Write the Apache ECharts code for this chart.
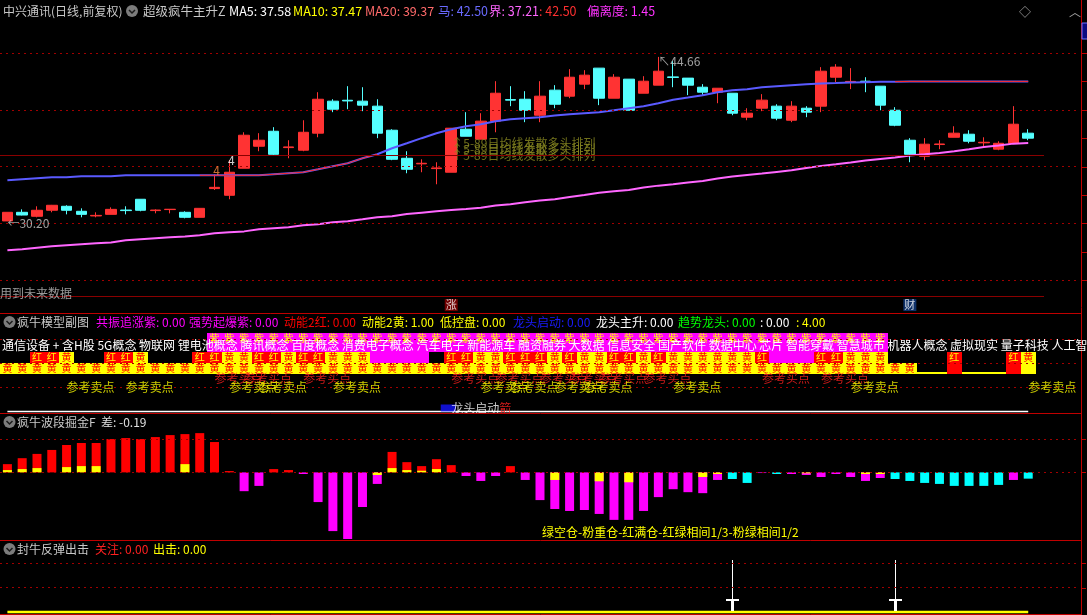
<!DOCTYPE html>
<html>
<head>
<meta charset="utf-8">
<title>中兴通讯 日线</title>
<script src="https://cdn.jsdelivr.net/npm/echarts@6/dist/echarts.min.js"></script>
<style>
html,body{margin:0;padding:0;background:#000;overflow:hidden;}
#chart{width:1087px;height:615px;}
</style>
</head>
<body>
<div id="chart"></div>
<script>
// ================= DATA =================
// daily candles, index 0..69
const opens  = [30.21,30.97,30.62,31.15,31.50,31.06,30.65,30.79,31.17,32.12,
                31.12,31.21,30.97,30.53,33.06,32.47,34.85,36.79,38.11,36.67,
                36.44,37.94,40.76,40.84,40.76,40.32,38.20,35.73,35.24,34.82,
                34.50,38.29,37.41,39.00,40.90,40.93,39.52,41.73,41.20,42.26,
                43.67,41.02,42.70,41.46,42.17,42.90,42.79,41.99,41.55,41.46,
                39.35,40.14,40.32,39.08,40.14,40.32,42.87,42.45,42.52,42.08,
                39.96,37.32,35.90,36.94,37.58,37.85,37.09,36.53,37.05,37.94];
const closes = [30.97,30.73,31.15,31.59,31.15,30.79,30.70,31.23,31.12,31.15,
                31.17,31.24,30.53,31.32,33.17,34.50,37.76,37.32,36.08,36.73,
                38.02,40.93,40.05,40.78,40.41,37.94,35.64,34.76,35.29,34.88,
                38.38,37.67,39.00,41.46,40.85,39.96,41.20,40.49,42.87,43.05,
                41.02,42.87,39.96,42.52,43.40,42.85,42.17,41.55,41.90,39.70,
                39.70,40.85,39.26,40.32,39.79,43.40,43.76,42.50,42.47,40.41,
                38.64,36.08,36.97,36.99,37.94,37.23,37.14,37.05,38.73,37.50];
const lows   = [30.20,30.70,30.53,30.97,30.79,30.53,30.53,30.79,30.79,31.06,
                30.88,30.88,30.44,30.53,32.94,32.12,34.85,36.35,36.00,35.73,
                36.35,37.58,39.79,40.05,39.88,37.50,35.56,34.41,34.50,33.44,
                34.50,37.67,37.41,38.02,40.32,38.91,38.91,40.14,41.02,41.82,
                40.41,41.02,39.96,41.46,42.17,41.99,41.29,41.32,40.58,39.52,
                39.08,39.88,39.08,38.91,39.35,39.79,42.43,41.82,41.55,39.96,
                38.55,35.38,35.56,36.53,37.58,37.05,36.70,36.44,37.05,37.32];
const highs  = [30.97,31.23,31.50,31.62,31.59,31.32,30.97,31.41,31.50,32.12,
                31.23,31.26,31.06,31.32,34.32,35.56,38.02,37.94,38.47,37.32,
                39.08,41.55,40.93,42.08,41.99,40.93,38.29,36.35,35.64,35.38,
                38.38,39.79,39.70,42.52,42.08,41.64,42.52,42.17,43.58,43.49,
                43.67,43.14,42.70,42.96,44.66,44.29,42.79,42.26,41.90,41.46,
                40.14,41.38,40.49,40.76,40.32,43.76,44.02,43.67,42.87,42.08,
                40.23,37.50,37.50,37.32,38.55,38.20,37.58,37.23,40.32,38.29];
// "马" line (blue) and "界" line (magenta)
const maHorse = [33.79,33.88,33.97,34.06,34.06,34.14,34.14,34.14,34.23,34.23,
                 34.23,34.23,34.23,34.23,34.23,34.23,34.23,34.23,34.32,34.41,
                 34.50,34.76,35.03,35.29,35.73,36.08,36.61,37.05,37.50,37.94,
                 38.29,38.55,38.73,39.00,39.17,39.26,39.35,39.49,39.61,39.70,
                 39.79,39.96,40.14,40.32,40.58,40.88,41.08,41.29,41.55,41.73,
                 41.82,41.99,42.08,42.17,42.26,42.32,42.35,42.40,42.43,42.46,
                 42.48,42.50,42.50,42.50,42.50,42.50,42.50,42.50,42.50,42.50];
const maBound = [27.62,27.71,27.85,27.97,28.06,28.15,28.24,28.32,28.50,28.59,
                 28.68,28.77,28.85,28.94,29.12,29.21,29.29,29.47,29.56,29.65,
                 29.82,29.91,30.09,30.18,30.35,30.53,30.62,30.82,30.94,31.06,
                 31.18,31.26,31.38,31.56,31.68,31.85,32.00,32.12,32.32,32.50,
                 32.70,32.82,32.94,33.15,33.32,33.44,33.59,33.73,33.94,34.12,
                 34.26,34.38,34.53,34.67,34.88,35.06,35.20,35.35,35.53,35.67,
                 35.79,35.97,36.08,36.20,36.35,36.53,36.73,36.85,37.02,37.08];
const horseRedRanges = [[13,25],[60,69]];          // red overlay on the blue line
const priceGridLevels = [25,30,35,40,45];
const priceRefLevel = 36.0;

// header values
const headMA5 = '37.58', headMA10 = '37.47', headMA20 = '39.37';
const headHorse = '42.50', headBound = '37.21', headRed = '42.50', headDev = '1.45';

// panel 2: 疯牛模型副图 (cell codes per day; . = empty)
const row1Codes = '..............PPPPPPPPPPPPPPPPPPPPPPPPPPPPPPPPPPPPPPPPPPPPPP..........';
const row2Codes = '..RRY..RRY...RRYYRRYRRYYYPPPP.RRYYRRRYRYYRRYRYYYYYYRPPPRRYYY....R...RY';
const row3Codes = 'YYYYYYYYYYYYYYYYYYYYYYYYYYYYYYYYYYYYYYYYYYYYYYYYYYYYYYYYYYYYYY--R---Ry';
const buySlots  = [14,16,20,30,33,36,38,40,43,51,55];
const sellSlots = [4,8,15,17,22,32,34,37,39,45,57,69];
const dragonSlot = 30;
const conceptText = '通信设备 + 含H股 5G概念 物联网 锂电池概念 腾讯概念 百度概念 消费电子概念 汽车电子 新能源车 融资融券 大数据 信息安全 国产软件 数据中心 芯片 智能穿戴 智慧城市 机器人概念 虚拟现实 量子科技 人工智能';

// panel 3: 疯牛波段掘金F
const waveValues = [0.25,0.43,0.56,0.68,0.83,0.89,0.89,1.01,1.04,1.01,
                    1.07,1.13,1.16,1.19,0.92,0.04,-0.57,-0.41,0.10,0.07,
                    -0.05,-0.90,-1.78,-2.02,-1.05,-0.35,0.62,0.31,0.19,0.40,
                    0.22,-0.11,-0.26,-0.11,0.19,-0.23,-0.84,-1.11,-1.17,-1.14,
                    -1.26,-1.44,-1.44,-1.17,-0.75,-0.51,-0.60,-0.63,-0.23,-0.20,
                    -0.32,-0.02,-0.05,-0.05,-0.08,-0.14,-0.05,-0.14,-0.26,-0.17,
                    -0.20,-0.26,-0.32,-0.35,-0.41,-0.41,-0.41,-0.38,-0.23,-0.19];
const waveColorCodes = 'rrrrrrrrrrrrrrrrmmrrmmmmmmrrrrrmmmrmmmmmmmmmmmmmmccmcmmmmmmmccccccccmc';
const waveYellow = [0.07,0.10,0.13,0,0.16,0.19,0.19,0,0,0,
                    0,0,0.25,0,0,0,0,0,0,0,
                    0,0,0,0,0,-0.08,0.13,0.07,0.05,0.10,
                    0,0,0,0,0,0,0,-0.23,0,0,
                    -0.27,0,-0.30,0,0,0,0,-0.14,-0.05,0,
                    0,0,0,0,-0.03,0,0,0,-0.05,-0.05,
                    0,0,0,0,0,0,0,0,0,0];
const waveGridLevels = [0,1];
const waveDiff = '-0.19';

// panel 4: 封牛反弹出击
const attackValues = [0,0,0,0,0,0,0,0,0,0, 0,0,0,0,0,0,0,0,0,0,
                      0,0,0,0,0,0,0,0,0,0, 0,0,0,0,0,0,0,0,0,0,
                      0,0,0,0,0,0,0,0,0,0, 0,0,0,0,0,0,0,0,0,0,
                      0,0,0,0,0,0,0,0,0,0];
const spikeSlots = [49,60];
const spikeHeight = 2.12;
const attackGridLevels = [1,2];

// ================= CHART =================
const FONT = '"Noto Sans CJK SC","Noto Sans",sans-serif';
const HFS = 12.5;   // header font size
const N = opens.length;
const SLOTS = 73;
const cats = Array.from({length:SLOTS}, (_,i)=>i);

const DOT = {color:'#a00000', type:[2,4], width:1};
function dotted(levels){
  return {silent:true, symbol:'none', animation:false, label:{show:false},
          lineStyle:DOT, data:levels.map(v=>({yAxis:v}))};
}

const grids = [
  {left:-1, right:7, top:20,  height:277},
  {left:-1, right:7, top:333, height:82},
  {left:-1, right:7, top:413, height:127},
  {left:-1, right:7, top:540, height:72}
];
const xAxis = grids.map((g,i)=>({type:'category', gridIndex:i, data:cats, boundaryGap:true, show:false}));
const yAxis = [
  {type:'value', gridIndex:0, min:23.51, max:47.91, show:false},
  {type:'value', gridIndex:1, min:0, max:82, inverse:true, show:false},
  {type:'value', gridIndex:2, min:-2.05, max:1.80, show:false},
  {type:'value', gridIndex:3, min:0, max:2.94, show:false}
];

const series = [];
// ---- main panel ----
series.push({type:'candlestick', xAxisIndex:0, yAxisIndex:0, z:3, barWidth:11,
  data: opens.map((o,i)=>[o, closes[i], lows[i], highs[i]]),
  itemStyle:{color:'#ff3333', color0:'#55ffff', borderColor:'#ff3333', borderColor0:'#55ffff', borderWidth:1},
  markLine: dotted(priceGridLevels)});
series.push({type:'line', xAxisIndex:0, yAxisIndex:0, z:4, data:maHorse, symbol:'none',
  lineStyle:{color:'#5a5aff', width:2}});
series.push({type:'line', xAxisIndex:0, yAxisIndex:0, z:4, symbol:'none',
  data: maHorse.map((v,i)=> horseRedRanges.some(r=>i>=r[0]&&i<=r[1]) ? v : '-'),
  lineStyle:{color:'#ff2a2a', width:1}});
series.push({type:'line', xAxisIndex:0, yAxisIndex:0, z:4, data:maBound, symbol:'none',
  lineStyle:{color:'#ff66ff', width:2}});

const olive = ['↑5-89日均线发散多头排列','↑5-89日均线发散多头排列','↑5-89日均线发散多头排列'];
series.push({type:'scatter', xAxisIndex:0, yAxisIndex:0, z:6, symbolSize:0, clip:false, silent:true,
  data:[
    {value:[0, lows[0]], label:{show:true, position:'right', distance:0, offset:[0,2], formatter:'←30.20', color:'#c8c8c8', fontSize:12, fontFamily:FONT}},
    {value:[44, highs[44]], label:{show:true, position:'right', distance:0, offset:[0,5], formatter:'↖44.66', color:'#c8c8c8', fontSize:12, fontFamily:FONT}},
    {value:[15, highs[15]], label:{show:true, position:'inside', offset:[2,0], formatter:'4', color:'#ffffff', fontSize:12, fontFamily:FONT}},
    {value:[14, highs[14]], label:{show:true, position:'inside', offset:[2,-4], formatter:'4', color:'#ff8a40', fontSize:12, fontFamily:FONT}},
    {value:[30, 36.5], label:{show:true, position:'right', distance:0, formatter:olive.join('\n'), lineHeight:6, color:'#8c8c22', fontSize:12, fontFamily:FONT}}
  ]});
series.push({type:'scatter', xAxisIndex:0, yAxisIndex:0, z:6, clip:false, silent:true, symbol:'rect', symbolSize:[13,12],
  data:[
    {value:[30, 22.80], itemStyle:{color:'#8b0000'}, label:{show:true, position:'inside', formatter:'涨', color:'#fff', fontSize:11, fontFamily:FONT}},
    {value:[61, 22.80], itemStyle:{color:'#123c82'}, label:{show:true, position:'inside', formatter:'财', color:'#fff', fontSize:11, fontFamily:FONT}}
  ]});

// ---- panel 2 ----
const ROWS = [[0,19],[19,30],[30,41]];
const CELL_FILL = {P:'#ff00ff', R:'#ff0000', Y:'#ffff00', y:'#ffff00'};
const cells = [];
[row1Codes,row2Codes,row3Codes].forEach((codes,r)=>{
  codes.split('').forEach((c,i)=>{ if(c!=='.' && c!=='-') cells.push({slot:i,row:r,code:c}); });
});
function cellText(row, code){
  if (row===0 && code==='P') return ['紫','#ffff00'];
  if (row===1 && code==='R') return ['红','#ffff00'];
  if (code==='Y') return ['黄','#ff0000'];
  return null;
}
series.push({type:'line', xAxisIndex:1, yAxisIndex:1, z:1, symbol:'none', silent:true,
  data: attackValues.map(()=>40), lineStyle:{color:'#ffff00', width:2},
  markLine: dotted([6,30,54])});
series.push({type:'custom', xAxisIndex:1, yAxisIndex:1, z:3, silent:true,
  data: cells.map(c=>[c.slot, ROWS[c.row][0]]),
  encode:{x:0, y:1},
  renderItem:function(params, api){
    const c = cells[params.dataIndex];
    const rr = ROWS[c.row];
    const p0 = api.coord([c.slot, rr[0]]);
    const p1 = api.coord([c.slot, rr[1]]);
    const w = api.size([1,0])[0];
    const x0 = Math.round(p0[0]-w/2), x1 = Math.round(p0[0]+w/2);
    const kids = [{type:'rect', shape:{x:x0, y:p0[1], width:x1-x0, height:p1[1]-p0[1]}, style:{fill:CELL_FILL[c.code]}}];
    const t = cellText(c.row, c.code);
    if (t) {
      const ty = c.row===0 ? p0[1]+5.5 : (p0[1]+p1[1])/2;
      kids.push({type:'text', style:{text:t[0], x:p0[0], y:ty, fill:t[1], font:'10px '+FONT, align:'center', verticalAlign:'middle', textAlign:'center', textVerticalAlign:'middle'}});
    }
    return {type:'group', children:kids};
  }});
series.push({type:'line', xAxisIndex:1, yAxisIndex:1, z:2, symbol:'none', silent:true,
  data: attackValues.map(()=>78.5), lineStyle:{color:'#ffffff', width:1.5}});
series.push({type:'scatter', xAxisIndex:1, yAxisIndex:1, z:5, symbolSize:0, silent:true, clip:false,
  data: buySlots.map(s=>[s,45]),
  label:{show:true, position:'right', distance:0, formatter:'参考买点', color:'#ff2020', fontSize:12, fontFamily:FONT}});
series.push({type:'scatter', xAxisIndex:1, yAxisIndex:1, z:6, symbolSize:0, silent:true, clip:false,
  data: sellSlots.map(s=>[s,54]),
  label:{show:true, position:'right', distance:0, formatter:'参考卖点', color:'#ffff00', fontSize:12, fontFamily:FONT}});
series.push({type:'scatter', xAxisIndex:1, yAxisIndex:1, z:6, silent:true, clip:false, symbol:'rect',
  symbolSize:[15,7], symbolOffset:[-3,0], itemStyle:{color:'#1414ff'},
  data:[[dragonSlot,75]]});
series.push({type:'scatter', xAxisIndex:1, yAxisIndex:1, z:7, symbolSize:0, silent:true, clip:false,
  data:[[dragonSlot,75]],
  label:{show:true, position:'right', distance:0, formatter:'{w|龙头启动}{r|箭}',
    rich:{w:{color:'#ffffff', fontSize:12, fontFamily:FONT}, r:{color:'#ff2020', fontSize:12, fontFamily:FONT}}}});

// ---- panel 3 ----
const WAVE_COL = {r:'#ff0000', m:'#ff00ff', c:'#00ffff'};
series.push({type:'bar', xAxisIndex:2, yAxisIndex:2, z:2, barWidth:9, barGap:'-100%', silent:true,
  data: waveValues.map((v,i)=>({value:v, itemStyle:{color:WAVE_COL[waveColorCodes[i]]}})),
  markLine: dotted(waveGridLevels)});
series.push({type:'bar', xAxisIndex:2, yAxisIndex:2, z:3, barWidth:9, barGap:'-100%', silent:true,
  data: waveYellow.map(v=> v===0 ? '-' : v), itemStyle:{color:'#ffff00'}});

// ---- panel 4 ----
series.push({type:'line', xAxisIndex:3, yAxisIndex:3, z:3, symbol:'none', silent:true, clip:false,
  data: attackValues, lineStyle:{color:'#ffff00', width:2.5},
  markLine: dotted(attackGridLevels)});
series.push({type:'custom', xAxisIndex:3, yAxisIndex:3, z:4, silent:true,
  data: spikeSlots.map(s=>[s, spikeHeight]), encode:{x:0, y:1},
  renderItem:function(params, api){
    const s = api.value(0), h = api.value(1);
    const pt = api.coord([s, h]), pm = api.coord([s, 0.49]), pb = api.coord([s, 0]);
    const cx = Math.round(pt[0]);
    return {type:'group', children:[
      {type:'rect', shape:{x:cx, y:pt[1], width:1, height:pm[1]-pt[1]}, style:{fill:'#ffffff'}},
      {type:'rect', shape:{x:cx-6, y:pm[1]-1, width:13, height:2}, style:{fill:'#ffffff'}},
      {type:'rect', shape:{x:cx-1, y:pm[1], width:3, height:pb[1]-pm[1]-1}, style:{fill:'#ffffff'}}
    ]};
  }});

// ================= STATIC CHROME (headers, borders) =================
function T(x, y, text, color, size){
  return {type:'text', x:x, y:y, z:100,
    style:{text:text, fill:color, font:(size||HFS)+'px '+FONT, verticalAlign:'middle', textVerticalAlign:'middle', align:'left', textAlign:'left'}};
}
function L(x1,y1,x2,y2,color,w){
  return {type:'line', z:90, silent:true, shape:{x1:x1,y1:y1,x2:x2,y2:y2}, style:{stroke:color, lineWidth:w||1}};
}
function icon(cx, cy){
  return [
    {type:'circle', z:100, shape:{cx:cx, cy:cy, r:6}, style:{fill:'#7c7c7c'}},
    {type:'polyline', z:101, shape:{points:[[cx-3,cy-1],[cx,cy+2],[cx+3,cy-1]]}, style:{stroke:'#1a1a1a', lineWidth:1.5, fill:null}}
  ];
}
const BORDER = '#c00000';
const graphic = [
  // main header
  T(3, 11, '中兴通讯(日线,前复权)', '#c8c8c8', 12),
  ...icon(132, 11),
  T(143, 11, '超级疯牛主升Z', '#c8c8c8'),
  T(229, 11, 'MA5: '+headMA5, '#ffffff'),
  T(293, 11, 'MA10: '+headMA10, '#ffff00'),
  T(365, 11, 'MA20: '+headMA20, '#ff6a6a'),
  T(438, 11, '马: '+headHorse, '#6a6aff'),
  T(489, 11, '界: '+headBound, '#ff66ff'),
  T(539, 11, ': '+headRed, '#ff3030'),
  T(587, 11, '偏离度: '+headDev, '#ff33ff'),
  T(1019, 12, '◇', '#a0a0a0', 12),
  T(1069, 12, '︿', '#a0a0a0', 12),
  T(0, 293, '用到未来数据', '#9a9a9a', 12),
  // panel 2 header
  ...icon(9.5, 322),
  T(17, 322, '疯牛模型副图', '#c8c8c8', 12),
  T(96, 322, '共振追涨紫: 0.00', '#ff00ff', 12),
  T(189, 322, '强势起爆紫: 0.00', '#ff00ff', 12),
  T(284, 322, '动能2红: 0.00', '#ff0000', 12),
  T(362, 322, '动能2黄: 1.00', '#ffff00', 12),
  T(440, 322, '低控盘: 0.00', '#ffff00', 12),
  T(513, 322, '龙头启动: 0.00', '#1a1aff', 12),
  T(596, 322, '龙头主升: 0.00', '#ffffff', 12),
  T(678, 322, '趋势龙头: 0.00', '#00ff00', 12),
  T(760, 322, ': 0.00', '#ffffff', 12),
  T(796, 322, ': 4.00', '#ffff00', 12),
  T(2, 345, conceptText, '#ffffff', 12),
  // panel 3 header
  ...icon(9.5, 422),
  T(17, 422, '疯牛波段掘金F', '#c8c8c8', 12),
  T(101, 422, '差: '+waveDiff, '#e0e0e0', 12),
  T(542, 532, '绿空仓-粉重仓-红满仓-红绿相间1/3-粉绿相间1/2', '#ffff00', 12),
  // panel 4 header
  ...icon(9.5, 549),
  T(17, 549, '封牛反弹出击', '#c8c8c8', 12),
  T(95, 549, '关注: 0.00', '#ff2020', 12),
  T(153, 549, '出击: 0.00', '#ffff00', 12),
  // borders
  L(0, 313.5, 1081, 313.5, BORDER),
  L(0, 413.5, 1081, 413.5, BORDER),
  L(0, 540.5, 1081, 540.5, BORDER),
  L(0, 614.5, 1081, 614.5, BORDER),
  L(1081.5, 0, 1081.5, 615, BORDER),
  {type:'rect', z:95, shape:{x:1082, y:23, width:6, height:16}, style:{fill:'#0a0a80', stroke:'#7070ff', lineWidth:1}}
];

const chart = echarts.init(document.getElementById('chart'), null, {renderer:'canvas'});
chart.setOption({
  backgroundColor:'#000000',
  animation:false,
  grid:grids, xAxis:xAxis, yAxis:yAxis, series:series, graphic:graphic
});

// lines that depend on the price scale
const yRef = chart.convertToPixel({yAxisIndex:0}, priceRefLevel);
const yBottom = chart.convertToPixel({yAxisIndex:0}, 23.51);
const extra = [
  L(0, Math.round(yRef)+0.5, 1044, Math.round(yRef)+0.5, '#8a0000'),
  L(0, Math.round(yBottom)-0.5, 1044, Math.round(yBottom)-0.5, '#8a0000')
];
for (let p = 22.5; p <= 47.5; p += 2.5) {
  const y = chart.convertToPixel({yAxisIndex:0}, p);
  if (y > 20 && y < 297) extra.push(L(1082, Math.round(y)+0.5, 1087, Math.round(y)+0.5, BORDER));
}
[1,2].forEach(v=>{ const y = chart.convertToPixel({yAxisIndex:3}, v); extra.push(L(1082, Math.round(y)+0.5, 1086, Math.round(y)+0.5, BORDER)); });
[0,1].forEach(v=>{ const y = chart.convertToPixel({yAxisIndex:2}, v); extra.push(L(1082, Math.round(y)+0.5, 1086, Math.round(y)+0.5, BORDER)); });
chart.setOption({graphic: graphic.concat(extra)});
</script>
</body>
</html>
